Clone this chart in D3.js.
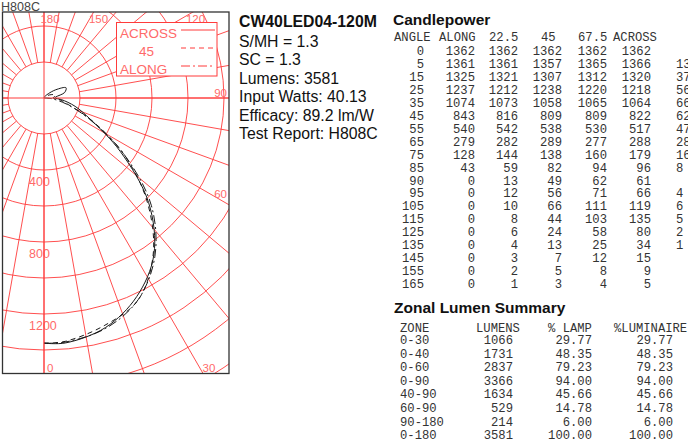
<!DOCTYPE html>
<html>
<head>
<meta charset="utf-8">
<script src="https://cdn.jsdelivr.net/npm/d3@7"></script>
<style>
body{margin:0;background:#fff;}
svg{display:block;}
.mono{font-family:"Liberation Mono","Courier New",monospace;font-size:12.2px;fill:#333;}
.sans{font-family:"Liberation Sans",Arial,sans-serif;}
</style>
</head>
<body>
<svg id="myGraph" width="688" height="442"></svg>
<script>
// candlepower data
var angles=[0,5,15,25,35,45,55,65,75,85,90,95,105,115,125,135,145,155,165];
var along=[1362,1361,1325,1237,1074,843,540,279,128,43,0,0,0,0,0,0,0,0,0];
var p225=[1362,1361,1321,1212,1073,816,542,282,144,59,13,12,10,8,6,4,3,2,1];
var p45=[1362,1357,1307,1238,1058,809,538,289,138,82,49,56,66,44,24,13,7,5,3];
var p675=[1362,1365,1312,1220,1065,809,530,277,160,94,62,71,111,103,58,25,12,8,4];
var across=[1362,1366,1320,1218,1064,822,517,288,179,96,61,66,119,135,80,34,15,9,5];
// column cut off at the right edge of the page
var cutCol=["","13","37","56","66","62","47","28","16","8","","4","6","5","2","1","","",""];
var cpHeaders=["ANGLE","ALONG","22.5","45","67.5","ACROSS"];

var zones=["0-30","0-40","0-60","0-90","40-90","60-90","90-180","0-180"];
var zoneLumens=[1066,1731,2837,3366,1634,529,214,3581];
var zoneLamp=["29.77","48.35","79.23","94.00","45.66","14.78","6.00","100.00"];
var zoneLum=["29.77","48.35","79.23","94.00","45.66","14.78","6.00","100.00"];
var zoneHeaders=["ZONE","LUMENS","% LAMP","%LUMINAIRE"];

var infoTitle="CW40LED04-120M";
var infoLines=["S/MH = 1.3","SC = 1.3","Lumens: 3581","Input Watts: 40.13","Efficacy: 89.2 lm/W","Test Report: H808C"];

var ringValues=d3.range(200,2001,200);
var ringLabels=[400,800,1200];
var angleTicks=[0,30,60,90,120,150,180];
var legendNames=["ACROSS","45","ALONG"];

var svg=d3.select("#myGraph");
var red="#ff3b3b", labelRed="#ff6a6a";

// ---- polar plot ----
var fx1=2.5, fy1=12, fx2=229, fy2=373.5;
var cx=44, cy=98;
var rScale=d3.scaleLinear().domain([0,200]).range([0,36]);
var aScale=d3.scaleLinear().domain([0,180]).range([Math.PI,0]); // 0 = nadir

svg.append("text").attr("class","sans").attr("x",1).attr("y",11)
	.style("font-size","12.5px").style("fill","#444").text("H808C");

svg.append("clipPath").attr("id","frameClip")
	.append("rect").attr("x",fx1).attr("y",fy1).attr("width",fx2-fx1).attr("height",fy2-fy1);

var plot=svg.append("g").attr("clip-path","url(#frameClip)");
var g=plot.append("g").attr("transform","translate("+cx+","+cy+")");

g.selectAll("circle.ring")
	.data(ringValues)
	.enter()
	.append("circle")
	.attr("class","ring")
	.attr("r",function(d){return rScale(d);})
	.style("fill","none").style("stroke",red).style("stroke-width",0.9);

g.selectAll("line.spoke")
	.data(d3.range(0,360,10))
	.enter()
	.append("line")
	.attr("class","spoke")
	.attr("x1",function(d){return rScale(200)*Math.sin(d*Math.PI/180);})
	.attr("y1",function(d){return rScale(200)*Math.cos(d*Math.PI/180);})
	.attr("x2",function(d){return 500*Math.sin(d*Math.PI/180);})
	.attr("y2",function(d){return 500*Math.cos(d*Math.PI/180);})
	.style("stroke",red).style("stroke-width",0.9);

// axes through the centre
plot.append("line").attr("x1",fx1).attr("x2",fx2).attr("y1",cy).attr("y2",cy)
	.style("stroke",red).style("stroke-width",1);
plot.append("line").attr("x1",cx).attr("x2",cx).attr("y1",fy1).attr("y2",fy2)
	.style("stroke",red).style("stroke-width",1);

// candela labels
g.selectAll("text.cd")
	.data(ringLabels)
	.enter()
	.append("text")
	.attr("class","sans cd")
	.attr("x",-15)
	.attr("y",function(d){return rScale(d)+16;})
	.style("font-size","12.5px").style("fill",labelRed)
	.text(function(d){return d;});

// angle labels at the frame edge
svg.selectAll("text.ang")
	.data(angleTicks)
	.enter()
	.append("text")
	.attr("class","sans ang")
	.style("font-size","11.5px").style("fill",labelRed)
	.each(function(d){
		var t=d*Math.PI/180, s=d3.select(this);
		if(d<=30){
			var yy=fy2-6;
			s.attr("x",cx+(yy-cy)*Math.tan(t)+3).attr("y",fy2-2).attr("text-anchor","start");
		}else if(d<=90){
			var xx=fx2-10;
			s.attr("x",fx2-2).attr("y",cy+(xx-cx)/Math.tan(t)-1).attr("text-anchor","end");
		}else{
			var dy=cy-(fy1+2);
			s.attr("x",cx+dy*Math.tan(Math.PI-t)+6).attr("y",fy1+11).attr("text-anchor","middle");
		}
	})
	.text(function(d){return d;});

// curves
var series=[
	{name:"ACROSS",values:across,dash:null},
	{name:"45",values:p45,dash:"5,4"},
	{name:"ALONG",values:along,dash:"9,3,2,3"}
];
var line=d3.lineRadial()
	.angle(function(d){return aScale(d[0]);})
	.radius(function(d){return rScale(d[1]);})
	.curve(d3.curveCatmullRom);

g.selectAll("path.curve")
	.data(series)
	.enter()
	.append("path")
	.attr("class","curve")
	.attr("d",function(s){return line(angles.map(function(a,i){return [a,s.values[i]];}));})
	.style("fill","none").style("stroke","#1a1a1a").style("stroke-width",1)
	.style("stroke-dasharray",function(s){return s.dash;});

// legend
var leg=svg.append("g");
leg.append("rect").attr("x",116.5).attr("y",22.5).attr("width",100.5).attr("height",53.5)
	.style("fill","#fff").style("stroke",red).style("stroke-width",1);
leg.selectAll("text")
	.data(legendNames)
	.enter()
	.append("text")
	.attr("class","sans")
	.attr("x",function(d,i){return i==1?139:120;})
	.attr("y",function(d,i){return 38+i*18;})
	.style("font-size","13.5px").style("fill",labelRed)
	.text(function(d){return d;});
leg.selectAll("line")
	.data(series)
	.enter()
	.append("line")
	.attr("x1",181).attr("x2",215)
	.attr("y1",function(d,i){return 30+i*18;})
	.attr("y2",function(d,i){return 30+i*18;})
	.style("stroke",red).style("stroke-width",1)
	.style("stroke-dasharray",function(s){return s.dash;});

// frame
svg.append("rect").attr("x",fx1).attr("y",fy1).attr("width",fx2-fx1).attr("height",fy2-fy1)
	.style("fill","none").style("stroke","#333").style("stroke-width",1.3);

// ---- info text ----
svg.append("text").attr("class","sans").attr("x",239).attr("y",27)
	.style("font-size","15.8px").style("font-weight","bold").style("fill","#111").text(infoTitle);
svg.selectAll("text.info")
	.data(infoLines)
	.enter()
	.append("text")
	.attr("class","sans info")
	.attr("x",239)
	.attr("y",function(d,i){return 47+i*18.4;})
	.style("font-size","15.8px").style("fill","#111")
	.text(function(d){return d;});

// ---- candlepower table ----
svg.append("text").attr("class","sans").attr("x",393).attr("y",25)
	.style("font-size","15.5px").style("font-weight","bold").style("fill","#111").text("Candlepower");

var cpHeadX=[394,439,489,541,578,613];
var cpColX=[424,475,518,562,607,651];
var rowY=d3.scaleLinear().domain([0,1]).range([55,67.95]);

svg.selectAll("text.cph")
	.data(cpHeaders)
	.enter()
	.append("text")
	.attr("class","mono cph")
	.attr("x",function(d,i){return cpHeadX[i];})
	.attr("y",40.5)
	.text(function(d){return d;});

var cpCols=[angles,along,p225,p45,p675,across];
cpCols.forEach(function(col,c){
	svg.selectAll("text.cp"+c)
		.data(col)
		.enter()
		.append("text")
		.attr("class","mono cp"+c)
		.attr("text-anchor","end")
		.attr("x",cpColX[c])
		.attr("y",function(d,i){return rowY(i);})
		.text(function(d){return d;});
});
svg.selectAll("text.cut")
	.data(cutCol)
	.enter()
	.append("text")
	.attr("class","mono cut")
	.attr("x",676)
	.attr("y",function(d,i){return rowY(i);})
	.text(function(d){return d;});

// ---- zonal lumen summary ----
svg.append("text").attr("class","sans").attr("x",394).attr("y",313)
	.style("font-size","15.5px").style("font-weight","bold").style("fill","#111").text("Zonal Lumen Summary");

var zHeadX=[400,476,548,614];
var zColX=[400,513,592,673];
var zRowY=d3.scaleLinear().domain([0,1]).range([344,357.6]);

svg.selectAll("text.zh")
	.data(zoneHeaders)
	.enter()
	.append("text")
	.attr("class","mono zh")
	.attr("x",function(d,i){return zHeadX[i];})
	.attr("y",331.5)
	.text(function(d){return d;});

var zCols=[zones,zoneLumens,zoneLamp,zoneLum];
zCols.forEach(function(col,c){
	svg.selectAll("text.z"+c)
		.data(col)
		.enter()
		.append("text")
		.attr("class","mono z"+c)
		.attr("text-anchor",c==0?"start":"end")
		.attr("x",zColX[c])
		.attr("y",function(d,i){return zRowY(i);})
		.text(function(d){return d;});
});
</script>
</body>
</html>
